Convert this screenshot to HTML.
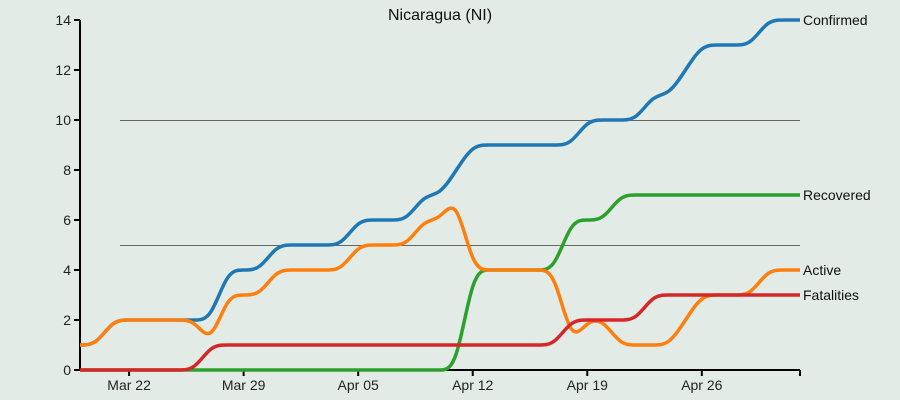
<!DOCTYPE html>
<html><head><meta charset="utf-8"><style>
body{margin:0;background:#e2ebe5;}
svg{display:block;font-family:"Liberation Sans",sans-serif;}
</style></head><body>
<svg id="chart" width="900" height="400">
<rect width="900" height="400" fill="#e2ebe5"/>
<text x="440" y="20" text-anchor="middle" font-size="16" fill="#111">Nicaragua (NI)</text>
<g id="grid"></g><g id="axes"></g><g id="lines"></g><g id="labels"></g>
</svg>
<script>
const confirmed=[1,1,2,2,2,2,2,2,2,4,4,4,5,5,5,5,5,6,6,6,6,7,7,8,9,9,9,9,9,9,9,10,10,10,10,11,11,12,13,13,13,13,14,14,14];
const active=[1,1,2,2,2,2,2,2,1,3,3,3,4,4,4,4,4,5,5,5,5,6,6,7,4,4,4,4,4,4,1,2,2,1,1,1,1,2,3,3,3,3,4,4,4];
const recovered=[0,0,0,0,0,0,0,0,0,0,0,0,0,0,0,0,0,0,0,0,0,0,0,0,4,4,4,4,4,4,6,6,6,7,7,7,7,7,7,7,7,7,7,7,7];
const fatalities=[0,0,0,0,0,0,0,0,1,1,1,1,1,1,1,1,1,1,1,1,1,1,1,1,1,1,1,1,1,1,2,2,2,2,2,3,3,3,3,3,3,3,3,3,3];
const yTicks=[0,2,4,6,8,10,12,14];
const xTickLabels=["Mar 22","Mar 29","Apr 05","Apr 12","Apr 19","Apr 26"];
const xTickIdx=[3,10,17,24,31,38];
const gridVals=[5,10];
const NS="http://www.w3.org/2000/svg";
const x0=80,x1=800,y0=370,y1=20,N=confirmed.length;
const xs=i=>x0+(x1-x0)*i/(N-1);
const ys=v=>y0+(y1-y0)*v/14;
function mk(t,a,p){const e=document.createElementNS(NS,t);for(const k in a)e.setAttribute(k,a[k]);p.appendChild(e);return e;}
const G=document.getElementById('grid'),A=document.getElementById('axes'),L=document.getElementById('lines'),T=document.getElementById('labels');
gridVals.forEach(v=>{const l=mk('line',{x1:120,x2:800,y1:ys(v)+0.5,y2:ys(v)+0.5,stroke:'#666','stroke-width':1,'shape-rendering':'crispEdges'},G);

});
let ax=mk('line',{x1:x0,x2:x0,y1:y1,y2:y0,stroke:'#000','stroke-width':2},A);


let bx=mk('line',{x1:x0,x2:x1,y1:y0,y2:y0,stroke:'#000','stroke-width':2},A);


yTicks.forEach(v=>{mk('line',{x1:x0-6,x2:x0,y1:ys(v),y2:ys(v),stroke:'#000','stroke-width':2},A);
const t=mk('text',{x:x0-9,y:ys(v)+5,'text-anchor':'end','font-size':14,fill:'#222'},A);t.textContent=v;

});
xTickIdx.forEach((d,i)=>{mk('line',{x1:xs(d),x2:xs(d),y1:y0,y2:y0+6,stroke:'#000','stroke-width':2},A);
const t=mk('text',{x:xs(d),y:y0+20,'text-anchor':'middle','font-size':14,fill:'#222'},A);t.textContent=xTickLabels[i];

});
mk('line',{x1:x1,x2:x1,y1:y0,y2:y0+6,stroke:'#000','stroke-width':2},A);
function basis(p){const n=p.length;let d='M'+p[0][0]+','+p[0][1];
d+='L'+((5*p[0][0]+p[1][0])/6)+','+((5*p[0][1]+p[1][1])/6);
for(let i=1;i<n;i++){const a=p[i-1],b=p[i],c=p[Math.min(i+1,n-1)];
const c1=[(2*a[0]+b[0])/3,(2*a[1]+b[1])/3],c2=[(a[0]+2*b[0])/3,(a[1]+2*b[1])/3];
let e=[(a[0]+4*b[0]+c[0])/6,(a[1]+4*b[1]+c[1])/6];
if(i===n-1)e=b;
d+='C'+c1[0]+','+c1[1]+','+c2[0]+','+c2[1]+','+e[0]+','+e[1];}
return d;}
const series=[["Recovered",recovered,"#2ca02c","recovered-line"],["Confirmed",confirmed,"#1f77b4","confirmed-line"],["Active",active,"#ff7f0e","active-line"],["Fatalities",fatalities,"#d62728","fatalities-line"]];
series.forEach(s=>{const p=mk('path',{d:basis(s[1].map((v,i)=>[xs(i),ys(v)])),fill:'none',stroke:s[2],'stroke-width':3.5},L);


const t=mk('text',{x:803,y:ys(s[1][N-1])+5,'font-size':14,fill:'#111'},T);t.textContent=s[0];

});
</script>
</body></html>
